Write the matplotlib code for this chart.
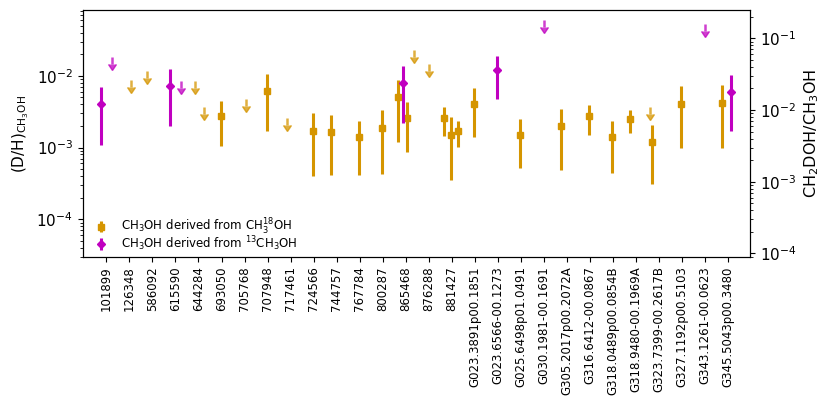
import matplotlib
matplotlib.use("Agg")
import matplotlib.pyplot as plt
import numpy as np

sources = ["101899", "126348", "586092", "615590", "644284", "693050", "705768",
           "707948", "717461", "724566", "744757", "767784", "800287", "865468",
           "876288", "881427", "G023.3891p00.1851", "G023.6566-00.1273",
           "G025.6498p01.0491", "G030.1981-00.1691", "G305.2017p00.2072A",
           "G316.6412-00.0867", "G318.0489p00.0854B", "G318.9480-00.1969A",
           "G323.7399-00.2617B", "G327.1192p00.5103", "G343.1261-00.0623",
           "G345.5043p00.3480"]

# CH3OH derived from CH3-18-OH : detections
o_x = [4.98, 6.99, 8.97, 9.77, 10.97, 11.97, 12.66, 13.06, 14.66, 14.96, 15.26,
       15.96, 17.96, 19.76, 20.96, 21.95, 22.76, 23.68, 24.94, 26.75]
o_val = [2.75e-3, 6.1e-3, 1.7e-3, 1.63e-3, 1.39e-3, 1.89e-3, 5.0e-3, 2.57e-3,
         2.55e-3, 1.49e-3, 1.68e-3, 4.07e-3, 1.51e-3, 1.99e-3, 2.72e-3, 1.41e-3,
         2.47e-3, 1.19e-3, 4.1e-3, 4.2e-3]
o_err = [1.7e-3, 4.4e-3, 1.3e-3, 1.22e-3, 0.97e-3, 1.46e-3, 3.8e-3, 1.7e-3,
         1.09e-3, 1.14e-3, 0.66e-3, 2.67e-3, 0.99e-3, 1.51e-3, 1.2e-3, 0.97e-3,
         0.9e-3, 0.88e-3, 3.1e-3, 3.2e-3]
# CH3-18-OH : upper limits
ol_x = [1.05, 1.75, 3.85, 4.24, 6.05, 7.86, 13.34, 14.03, 23.61]
ol_val = [8.7e-3, 1.17e-2, 8.4e-3, 3.63e-3, 4.74e-3, 2.55e-3, 2.28e-2, 1.46e-2, 3.7e-3]

# CH3OH derived from 13CH3OH : detections
m_x = [-0.23, 2.78, 12.86, 16.96, 27.14]
m_val = [4.0e-3, 7.2e-3, 8.0e-3, 1.2e-2, 6.0e-3]
m_err = [2.9e-3, 5.2e-3, 5.8e-3, 7.2e-3, 4.3e-3]
# 13CH3OH : upper limits
ml_x = [0.25, 3.26, 19.02, 26.01]
ml_val = [1.84e-2, 8.44e-3, 5.97e-2, 5.2e-2]

ORANGE = "#D59500"
MAGENTA = "#C000C0"
ARROW = 0.2  # relative length of upper-limit arrows

fig = plt.figure(figsize=(8.3, 4.05), dpi=100)
ax = fig.add_axes([0.0996, 0.366, 0.8040, 0.6086])

ax.errorbar(o_x, o_val, yerr=o_err, fmt="s", color=ORANGE, ms=4.5, elinewidth=2.2,
            label=r"CH$_3$OH derived from CH$_3^{18}$OH", zorder=3)
ax.errorbar(ol_x, ol_val, yerr=ARROW * np.array(ol_val), fmt="none", color=ORANGE,
            ecolor=ORANGE, elinewidth=1.8, uplims=True, alpha=0.75, zorder=3)
ax.errorbar(m_x, m_val, yerr=m_err, fmt="D", color=MAGENTA, ms=4.5, elinewidth=2.2,
            label=r"CH$_3$OH derived from $^{13}$CH$_3$OH", zorder=4)
ax.errorbar(ml_x, ml_val, yerr=ARROW * np.array(ml_val), fmt="none", color=MAGENTA,
            ecolor=MAGENTA, elinewidth=1.8, uplims=True, alpha=0.75, zorder=4)

ax.set_yscale("log")
ylo, yhi = 3.0e-5, 8.2e-2
ax.set_ylim(ylo, yhi)
ax.set_xlim(-1.03, 27.95)
ax.set_xticks(range(len(sources)))
ax.set_xticklabels(sources, rotation=90, fontsize=8.5)
ax.tick_params(axis="y", labelsize=11)
ax.set_ylabel(r"(D/H)$_{\rm CH_3OH}$", fontsize=11)

ax2 = ax.twinx()
ax2.set_yscale("log")
ax2.set_ylim(3 * ylo, 3 * yhi)
ax2.tick_params(axis="y", labelsize=11)
ax2.set_ylabel(r"CH$_2$DOH/CH$_3$OH", fontsize=11.5)

ax.legend(loc="lower left", frameon=False, fontsize=8.5, handlelength=1.0,
          handletextpad=1.2, borderaxespad=0.25, borderpad=0.3, labelspacing=-0.2,
          bbox_to_anchor=(0.0095, -0.012))

fig.savefig("out.png", dpi=100)
